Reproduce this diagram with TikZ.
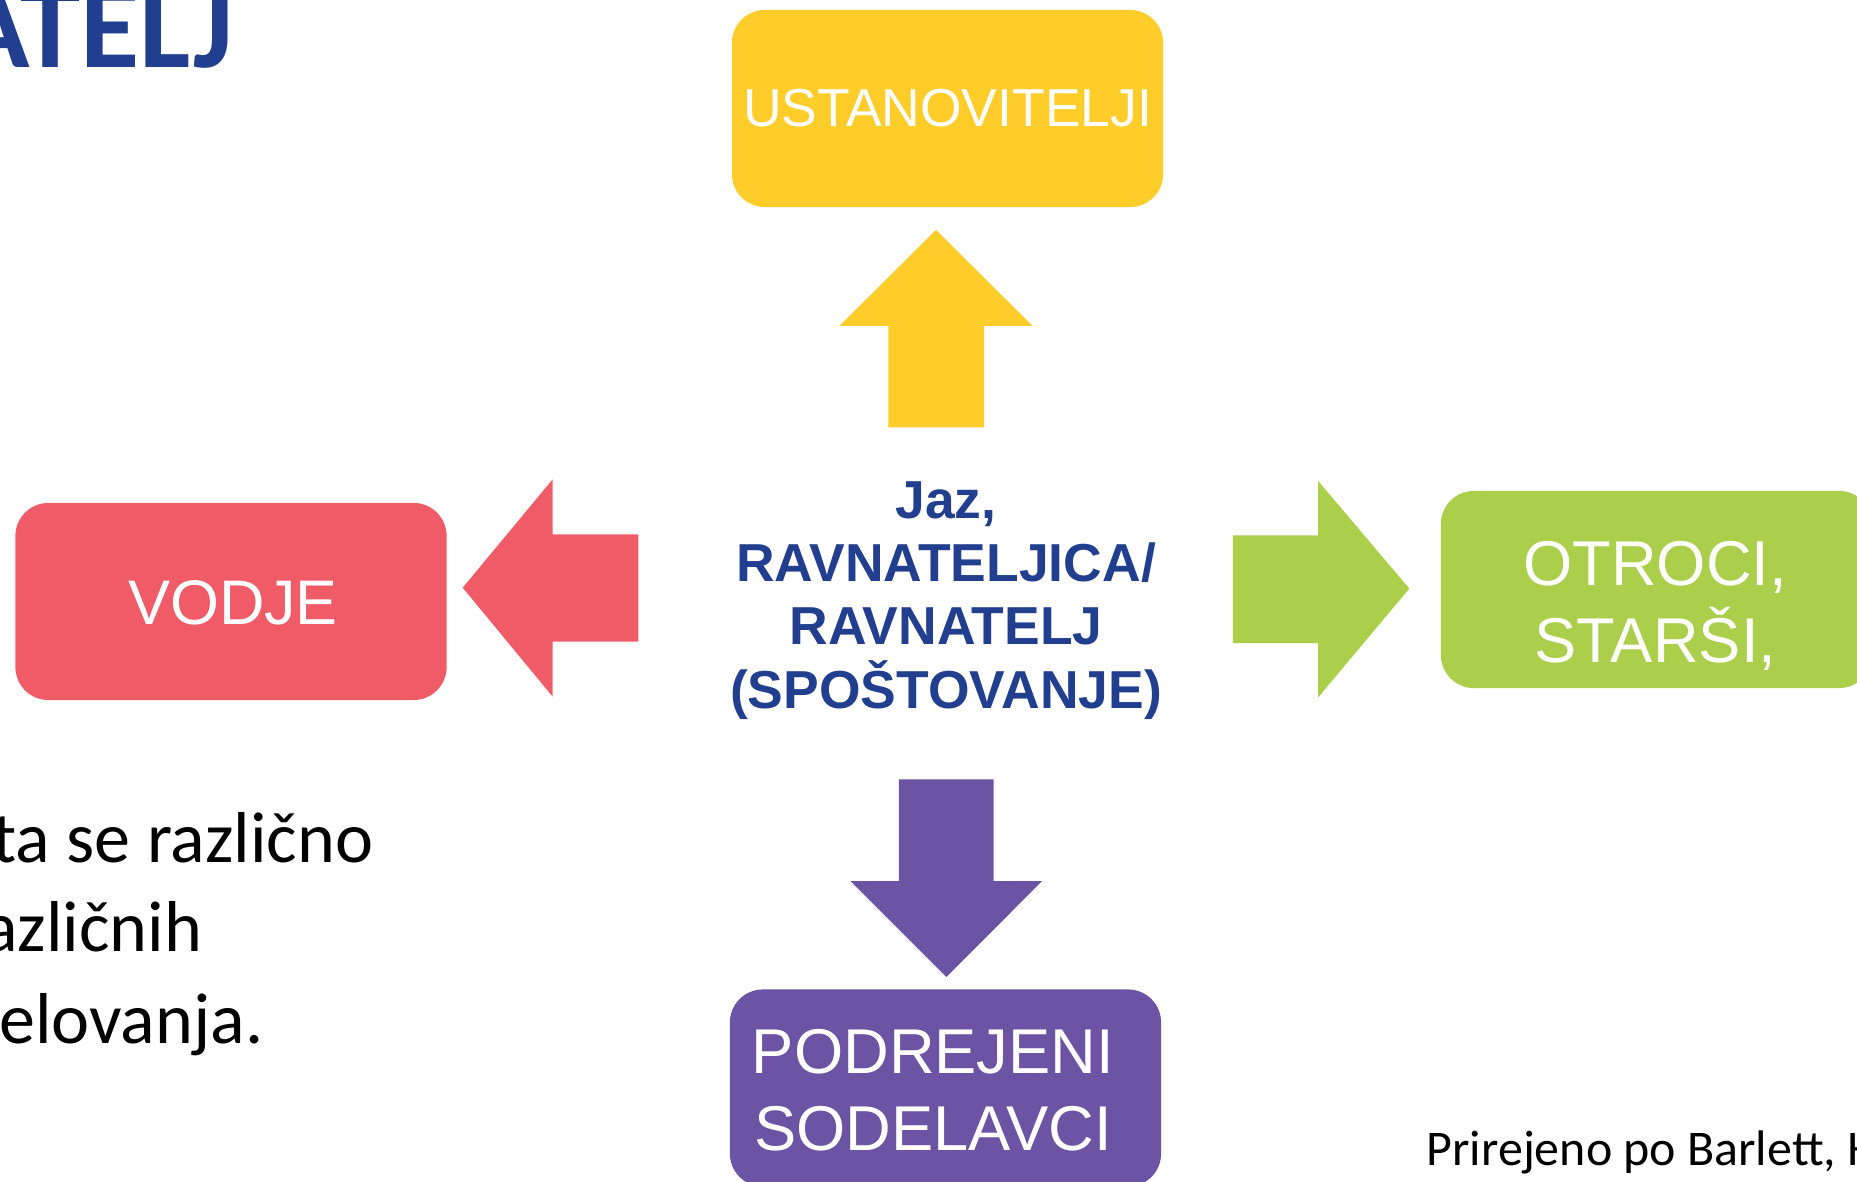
\documentclass[tikz,border=0pt]{standalone}
\usepackage{fontspec}
\setmainfont{Liberation Sans}
\newfontfamily\calibri{Carlito}

\definecolor{ustyellow}{HTML}{FFCD2A}
\definecolor{vodred}{HTML}{EF5C68}
\definecolor{otrgreen}{HTML}{ABCF4A}
\definecolor{podpurple}{HTML}{6C53A3}
\definecolor{jazblue}{HTML}{213F8E}

\tikzset{
 box/.style={rounded corners=0.33cm, minimum width=4.31cm, minimum height=1.97cm, inner sep=0pt, text=white},
 boxtext/.style={text=white, font=\fontsize{18}{21.9}\selectfont, inner sep=0pt},
 jaztext/.style={text=jazblue, font=\bfseries\fontsize{15.2}{18}\selectfont, inner sep=0pt},
 slidetext/.style={font=\calibri\fontsize{20.5}{25}\selectfont, inner sep=0pt},
}

\begin{document}
\begin{tikzpicture}[x=0.01cm, y=-0.01cm]
\useasboundingbox (0,0) rectangle (1857,1182);
\clip (0,0) rectangle (1857,1182);

% title and slide text
\node[font=\calibri\bfseries\fontsize{34.5}{40}\selectfont, text=jazblue, anchor=base east, inner sep=0pt] (naslov) at (234,68) {ATELJ};
\node[slidetext, anchor=base east] (vrsta1) at (374,862) {ta se različno};
\node[slidetext, anchor=base east] (vrsta2) at (203,951.7) {azličnih};
\node[slidetext, anchor=base east] (vrsta3) at (264,1043) {elovanja.};
\node[font=\calibri\fontsize{14.2}{16}\selectfont, anchor=base west, inner sep=0pt] (vir) at (1426,1165) {Prirejeno po Barlett, H};

% boxes
\node[box, fill=ustyellow, font=\fontsize{15.2}{18}\selectfont] (ustanovitelji) at (947.5,108.5) {USTANOVITELJI};
\node[box, fill=vodred] (vodje) at (231,601.5) {};
\node[box, fill=otrgreen] (otroci) at (1656.5,589.5) {};
\node[box, fill=podpurple] (podrejeni) at (945.5,1088) {};

\node[boxtext, font=\fontsize{17.9}{22}\selectfont, anchor=base] (vodje1) at (233,624) {VODJE};
\node[boxtext, anchor=base] (otroci1) at (1655,585) {OTROCI,};
\node[boxtext, anchor=base] (otroci2) at (1655.5,662.7) {STARŠI,};
\node[boxtext, anchor=base] (podrejeni1) at (933,1073) {PODREJENI};
\node[boxtext, anchor=base] (podrejeni2) at (933,1150) {SODELAVCI};

% centre
\foreach \txt [count=\i] in {{Jaz,}, RAVNATELJICA/, RAVNATELJ, (SPOŠTOVANJE)} {
 \node[jaztext, anchor=base] (jaz\i) at (946,518+63.4*\i-63.4) {\txt};
}

% block arrows
\fill[ustyellow] (888.3,427.3) -- (888.3,326) -- (839.3,326) -- (936,230) -- (1032.7,326) -- (984,326) -- (984,427.3) -- cycle;
\fill[vodred] (638.3,534.3) -- (552.7,534.3) -- (552.7,479.3) -- (462.7,587.7) -- (552.7,696.7) -- (552.7,641.7) -- (638.3,641.7) -- cycle;
\fill[otrgreen] (1232.9,535.3) -- (1318,535.3) -- (1318,480.8) -- (1409.3,588.6) -- (1318,697.5) -- (1318,643) -- (1232.9,643) -- cycle;
\fill[podpurple] (898.9,779.3) -- (898.9,881) -- (850.3,881) -- (946.3,977) -- (1042.2,881) -- (993.6,881) -- (993.6,779.3) -- cycle;

\end{tikzpicture}
\end{document}
